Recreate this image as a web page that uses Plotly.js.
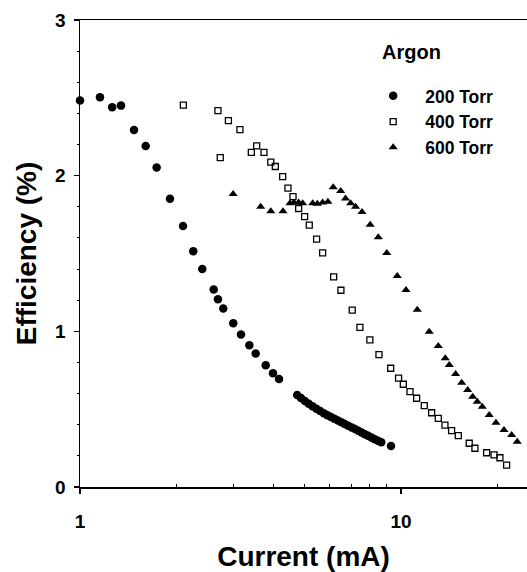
<!DOCTYPE html>
<html>
<head>
<meta charset="utf-8">
<script src="https://cdn.plot.ly/plotly-3.0.1.min.js"></script>
<style>html,body{margin:0;padding:0;background:#fff;}#chart{width:527px;height:572px;}</style>
</head>
<body>
<div id="chart"></div>
<script>
// 200 Torr (filled circles)
const torr200_x = [1.0, 1.154, 1.26, 1.342, 1.473, 1.602, 1.733, 1.907, 2.094, 2.254, 2.404, 2.61, 2.69, 2.795, 3.003, 3.174, 3.37, 3.526, 3.79, 3.993, 4.17,
  4.75, 4.88, 5.02, 5.16, 5.30, 5.45, 5.60, 5.75, 5.90, 6.05, 6.20, 6.36, 6.52, 6.68, 6.85, 7.02, 7.19, 7.36, 7.54, 7.72, 7.90, 8.09, 8.28, 8.48, 8.68, 9.31];
const torr200_y = [2.483, 2.504, 2.44, 2.45, 2.294, 2.19, 2.052, 1.851, 1.677, 1.515, 1.401, 1.268, 1.206, 1.146, 1.052, 0.979, 0.911, 0.857, 0.782, 0.731, 0.694,
  0.591, 0.572, 0.553, 0.535, 0.519, 0.503, 0.488, 0.474, 0.461, 0.449, 0.438, 0.427, 0.416, 0.405, 0.394, 0.383, 0.372, 0.361, 0.350, 0.339, 0.329, 0.318, 0.307, 0.297, 0.287, 0.263];

// 400 Torr (open squares)
const torr400_x = [2.099, 2.69, 2.735, 2.90, 3.15, 3.418, 3.552, 3.743, 3.93, 4.06, 4.28, 4.446, 4.61, 4.80, 5.01, 5.18, 5.46, 5.70, 6.17, 6.50, 7.05, 7.45, 8.0, 8.54, 9.29, 9.83, 10.17, 10.67, 11.19, 11.82, 12.46, 13.07, 13.71, 14.38, 15.09, 16.32, 17.0, 18.49, 19.5, 20.34, 21.34];
const torr400_y = [2.453, 2.418, 2.116, 2.353, 2.296, 2.149, 2.192, 2.149, 2.087, 2.059, 1.994, 1.92, 1.866, 1.789, 1.737, 1.682, 1.592, 1.504, 1.35, 1.264, 1.136, 1.026, 0.945, 0.85, 0.763, 0.699, 0.66, 0.613, 0.57, 0.523, 0.477, 0.441, 0.398, 0.362, 0.33, 0.281, 0.249, 0.22, 0.206, 0.188, 0.141];

// 600 Torr (filled triangles)
const torr600_x = [3.0, 3.655, 3.93, 4.29, 4.51, 4.64, 4.80, 4.94, 5.31, 5.49, 5.70, 5.92, 6.15, 6.49, 6.72, 6.97, 7.22, 7.56, 8.02, 8.50, 9.03, 9.74, 10.37, 11.24, 12.25, 13.07, 13.74, 14.14, 14.80, 15.46, 16.14, 16.73, 17.29, 17.92, 18.84, 19.77, 20.94, 22.13, 23.03];
const torr600_y = [1.883, 1.80, 1.772, 1.772, 1.823, 1.827, 1.827, 1.823, 1.823, 1.819, 1.827, 1.832, 1.926, 1.902, 1.854, 1.823, 1.801, 1.767, 1.684, 1.605, 1.504, 1.356, 1.266, 1.138, 0.998, 0.906, 0.827, 0.784, 0.726, 0.67, 0.623, 0.58, 0.548, 0.516, 0.463, 0.413, 0.366, 0.334, 0.291];

const seriesNames = ['200 Torr', '400 Torr', '600 Torr'];
const legendTitle = 'Argon';
const xTickVals = [1, 10];
const xTickText = ['1', '10'];
const xMinorVals = [2, 3, 4, 5, 6, 7, 8, 9, 20];
const yTickVals = [0, 1, 2, 3];

const FONT = '"Liberation Sans", Arial, sans-serif';

const traces = [
  {x: torr200_x, y: torr200_y, name: seriesNames[0], mode: 'markers', type: 'scatter', cliponaxis: false,
   marker: {symbol: 'circle', size: 8.5, color: '#000'}},
  {x: torr400_x, y: torr400_y, name: seriesNames[1], mode: 'markers', type: 'scatter', cliponaxis: false,
   marker: {symbol: 'square-open', size: 6, color: '#000', line: {width: 1.3, color: '#000'}}},
  {x: torr600_x, y: torr600_y, name: seriesNames[2], mode: 'markers', type: 'scatter', cliponaxis: false,
   marker: {symbol: 'triangle-up', size: 8, color: '#000'}}
];

const layout = {
  width: 527, height: 572,
  margin: {l: 80, r: 0, t: 20, b: 85},
  paper_bgcolor: '#fff', plot_bgcolor: '#fff',
  font: {family: FONT, color: '#000'},
  showlegend: true,
  legend: {
    x: 0.629, y: 0.876, xanchor: 'left', yanchor: 'top',
    bgcolor: 'rgba(0,0,0,0)', borderwidth: 0,
    font: {family: FONT, size: 17.5, color: '#000', weight: 'bold'},
    tracegroupgap: 0, itemwidth: 54
  },
  annotations: [{
    text: legendTitle, xref: 'paper', yref: 'paper', x: 0.671, y: 0.9315,
    xanchor: 'left', yanchor: 'middle', showarrow: false,
    font: {family: FONT, size: 20, color: '#000', weight: 'bold'}
  }],
  xaxis: {
    type: 'log', range: [0, 1.3927],
    tickvals: xTickVals, ticktext: xTickText,
    ticks: 'outside', ticklen: 5, tickwidth: 1.2, tickcolor: '#000',
    minor: {tickvals: xMinorVals, ticks: 'inside', ticklen: 3, tickcolor: '#000', tickwidth: 1},
    showline: true, linecolor: '#000', linewidth: 1.5, mirror: true,
    showgrid: false, zeroline: false,
    tickfont: {family: FONT, size: 19, weight: 'bold'},
    ticklabelstandoff: 12,
    title: {text: 'Current (mA)', font: {family: FONT, size: 28, weight: 'bold'}, standoff: 18}
  },
  yaxis: {
    range: [0, 3],
    tickvals: yTickVals,
    ticks: 'outside', ticklen: 5, tickwidth: 1.2, tickcolor: '#000',
    minor: {dtick: 0.2, ticks: 'outside', ticklen: 2, tickcolor: '#000', tickwidth: 1},
    showline: true, linecolor: '#000', linewidth: 1.5,
    showgrid: false, zeroline: false,
    tickfont: {family: FONT, size: 19, weight: 'bold'},
    ticklabelstandoff: 4,
    title: {text: 'Efficiency (%)', font: {family: FONT, size: 28, weight: 'bold'}, standoff: 10}
  }
};

Plotly.newPlot('chart', traces, layout, {displayModeBar: false, staticPlot: true});
</script>
</body>
</html>
